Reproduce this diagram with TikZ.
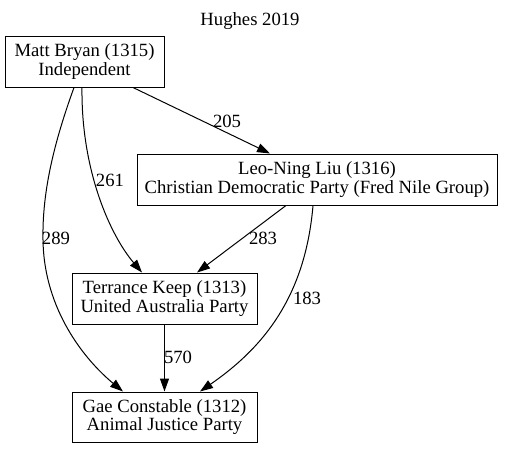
\documentclass[tikz,border=0pt]{standalone}
\usepackage{fontspec}
\newfontfamily\tnr{Liberation Serif}
\usetikzlibrary{arrows.meta}
\begin{document}
\begin{tikzpicture}[x=1pt,y=-1pt,
  box/.style={draw, line width=1pt, inner sep=0pt, align=center, font=\tnr\fontsize{18.67}{18.67}\selectfont},
  lbl/.style={inner sep=0pt, font=\tnr\fontsize{18.67}{18.67}\selectfont},
  edge/.style={line width=1pt, -{Triangle[length=13pt,width=9pt]}}]
\useasboundingbox (0,0) rectangle (505,448);
\node[lbl] (title) at (250,21) {Hughes 2019};
\node[box, minimum width=159pt, minimum height=51pt] (matt) at (84.5,61.5) {Matt Bryan (1315)\\Independent};
\node[box, minimum width=360pt, minimum height=51pt] (leo) at (317,179.5) {Leo-Ning Liu (1316)\\Christian Democratic Party (Fred Nile Group)};
\node[box, minimum width=185pt, minimum height=51pt] (ter) at (164.5,298.5) {Terrance Keep (1313)\\United Australia Party};
\node[box, minimum width=185pt, minimum height=50pt] (gae) at (164.5,417) {Gae Constable (1312)\\Animal Justice Party};
\draw[edge] ([xshift=48.5pt]matt.south) -- ([xshift=-47pt]leo.north);
\draw[edge] ([xshift=-2.5pt]matt.south) .. controls (81,170) and (110,235) .. ([xshift=-22.5pt]ter.north);
\draw[edge] ([xshift=-10.5pt]matt.south) .. controls (55,140) and (42,190) .. (43,240) .. controls (44,310) and (85,360) .. ([xshift=-41.5pt]gae.north);
\draw[edge] ([xshift=-31pt]leo.south) -- ([xshift=32.5pt]ter.north);
\draw[edge] ([xshift=-4pt]leo.south) .. controls (305,300) and (260,350) .. ([xshift=35.5pt]gae.north);
\draw[edge] (ter.south) -- (gae.north);
\node[lbl] (l205) at (227,121) {205};
\node[lbl] (l261) at (110,180) {261};
\node[lbl] (l289) at (56,238) {289};
\node[lbl] (l283) at (263,238) {283};
\node[lbl] (l183) at (307,298) {183};
\node[lbl] (l570) at (178,357) {570};
\end{tikzpicture}
\end{document}
